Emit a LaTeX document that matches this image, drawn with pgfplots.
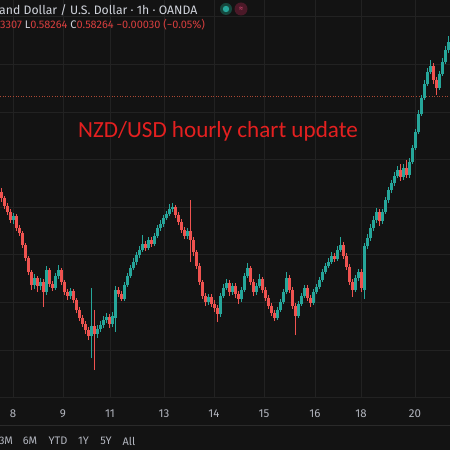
\documentclass[border=0pt]{standalone}
\usepackage{pgfplots}
\pgfplotsset{compat=1.18}
\usepackage{pgfplotstable}
\usepackage{fontspec}
\setmainfont{Fira Sans}
\newfontfamily\titlefont{Carlito}
\definecolor{bgc}{RGB}{19,19,19}
\definecolor{gridc}{RGB}{34,34,34}
\definecolor{upc}{RGB}{38,166,154}
\definecolor{dnc}{RGB}{239,83,80}
\definecolor{txt}{RGB}{209,212,220}
\definecolor{tickc}{RGB}{178,181,190}
\definecolor{hred}{RGB}{214,62,62}
\definecolor{tred}{RGB}{228,32,32}
\definecolor{pline}{RGB}{170,72,52}
\definecolor{sepc}{RGB}{42,42,42}
\definecolor{halo}{RGB}{22,70,60}
\definecolor{rbg}{RGB}{75,25,40}
\definecolor{rfg}{RGB}{205,70,110}

\pgfplotstableread{
x o h l c
1.5 0.57864 0.57880 0.57822 0.57838
4.5 0.57838 0.57847 0.57792 0.57805
7.5 0.57805 0.57817 0.57767 0.57780
10.5 0.57780 0.57792 0.57733 0.57746
16.5 0.57763 0.57771 0.57700 0.57712
19.5 0.57712 0.57725 0.57679 0.57691
22.5 0.57691 0.57700 0.57628 0.57641
25.5 0.57641 0.57649 0.57574 0.57586
28.5 0.57586 0.57595 0.57515 0.57528
31.5 0.57528 0.57536 0.57452 0.57473
37.5 0.57502 0.57511 0.57444 0.57469
43.5 0.57486 0.57498 0.57381 0.57444
49.5 0.57536 0.57544 0.57465 0.57477
52.5 0.57477 0.57490 0.57448 0.57460
61.5 0.57536 0.57544 0.57473 0.57486
64.5 0.57486 0.57494 0.57431 0.57444
67.5 0.57444 0.57456 0.57410 0.57427
73.5 0.57448 0.57456 0.57397 0.57410
76.5 0.57410 0.57418 0.57355 0.57368
79.5 0.57368 0.57381 0.57322 0.57334
82.5 0.57334 0.57347 0.57297 0.57309
85.5 0.57309 0.57322 0.57267 0.57284
88.5 0.57284 0.57297 0.57242 0.57259
94.5 0.57301 0.57368 0.57116 0.57267
109.5 0.57339 0.57351 0.57292 0.57309
118.5 0.57452 0.57465 0.57423 0.57435
121.5 0.57435 0.57448 0.57406 0.57414
145.5 0.57645 0.57658 0.57616 0.57628
151.5 0.57662 0.57675 0.57633 0.57645
175.5 0.57801 0.57809 0.57754 0.57767
178.5 0.57767 0.57780 0.57725 0.57738
181.5 0.57738 0.57750 0.57691 0.57704
184.5 0.57704 0.57717 0.57666 0.57679
190.5 0.57700 0.57830 0.57570 0.57662
193.5 0.57662 0.57675 0.57595 0.57612
196.5 0.57612 0.57620 0.57540 0.57553
199.5 0.57553 0.57565 0.57473 0.57486
202.5 0.57486 0.57494 0.57414 0.57427
205.5 0.57427 0.57439 0.57385 0.57402
211.5 0.57423 0.57435 0.57381 0.57393
214.5 0.57393 0.57410 0.57360 0.57376
217.5 0.57376 0.57389 0.57318 0.57351
229.5 0.57481 0.57494 0.57427 0.57444
235.5 0.57469 0.57481 0.57418 0.57435
238.5 0.57435 0.57448 0.57393 0.57414
250.5 0.57544 0.57553 0.57473 0.57486
253.5 0.57486 0.57498 0.57427 0.57444
262.5 0.57498 0.57507 0.57439 0.57452
265.5 0.57452 0.57465 0.57406 0.57418
268.5 0.57418 0.57431 0.57372 0.57385
271.5 0.57385 0.57397 0.57343 0.57355
274.5 0.57355 0.57368 0.57322 0.57334
289.5 0.57502 0.57515 0.57439 0.57452
292.5 0.57452 0.57465 0.57372 0.57385
295.5 0.57385 0.57397 0.57263 0.57343
307.5 0.57460 0.57473 0.57406 0.57418
310.5 0.57418 0.57431 0.57381 0.57397
334.5 0.57595 0.57607 0.57570 0.57582
343.5 0.57641 0.57654 0.57582 0.57595
346.5 0.57595 0.57607 0.57536 0.57549
349.5 0.57549 0.57561 0.57473 0.57486
352.5 0.57486 0.57498 0.57423 0.57452
361.5 0.57528 0.57540 0.57444 0.57460
379.5 0.57780 0.57792 0.57721 0.57742
400.5 0.57956 0.57981 0.57910 0.57927
406.5 0.57964 0.57998 0.57922 0.57935
433.5 0.58393 0.58405 0.58317 0.58334
436.5 0.58334 0.58347 0.58271 0.58300
}\down

\pgfplotstableread{
x o h l c
13.5 0.57746 0.57775 0.57729 0.57763
34.5 0.57473 0.57519 0.57456 0.57502
40.5 0.57469 0.57502 0.57452 0.57486
46.5 0.57444 0.57553 0.57431 0.57536
55.5 0.57460 0.57523 0.57452 0.57511
58.5 0.57511 0.57557 0.57498 0.57536
70.5 0.57427 0.57460 0.57414 0.57448
91.5 0.57259 0.57460 0.57166 0.57301
97.5 0.57267 0.57305 0.57250 0.57288
100.5 0.57288 0.57322 0.57276 0.57305
103.5 0.57305 0.57343 0.57292 0.57326
106.5 0.57326 0.57355 0.57313 0.57339
112.5 0.57309 0.57360 0.57297 0.57343
115.5 0.57334 0.57469 0.57276 0.57452
124.5 0.57414 0.57486 0.57406 0.57473
127.5 0.57473 0.57523 0.57465 0.57511
130.5 0.57511 0.57557 0.57502 0.57544
133.5 0.57544 0.57586 0.57536 0.57570
136.5 0.57570 0.57612 0.57557 0.57599
139.5 0.57599 0.57637 0.57586 0.57620
142.5 0.57620 0.57683 0.57612 0.57645
148.5 0.57628 0.57675 0.57620 0.57662
154.5 0.57645 0.57691 0.57637 0.57679
157.5 0.57679 0.57725 0.57670 0.57712
160.5 0.57712 0.57746 0.57700 0.57729
163.5 0.57729 0.57767 0.57717 0.57754
166.5 0.57754 0.57784 0.57746 0.57771
169.5 0.57771 0.57813 0.57763 0.57792
172.5 0.57792 0.57817 0.57780 0.57801
187.5 0.57679 0.57712 0.57666 0.57700
208.5 0.57402 0.57435 0.57389 0.57423
220.5 0.57351 0.57439 0.57339 0.57427
223.5 0.57427 0.57477 0.57418 0.57460
226.5 0.57460 0.57498 0.57452 0.57481
232.5 0.57444 0.57481 0.57431 0.57469
241.5 0.57414 0.57465 0.57402 0.57452
244.5 0.57452 0.57523 0.57444 0.57511
247.5 0.57511 0.57565 0.57502 0.57544
256.5 0.57444 0.57481 0.57431 0.57469
259.5 0.57469 0.57519 0.57460 0.57498
277.5 0.57334 0.57381 0.57326 0.57368
280.5 0.57368 0.57414 0.57360 0.57402
283.5 0.57402 0.57456 0.57393 0.57444
286.5 0.57444 0.57528 0.57435 0.57502
298.5 0.57343 0.57406 0.57334 0.57393
301.5 0.57393 0.57439 0.57385 0.57427
304.5 0.57427 0.57473 0.57418 0.57460
313.5 0.57397 0.57456 0.57389 0.57444
316.5 0.57444 0.57477 0.57435 0.57465
319.5 0.57465 0.57507 0.57456 0.57494
322.5 0.57494 0.57540 0.57486 0.57528
325.5 0.57528 0.57565 0.57519 0.57553
328.5 0.57553 0.57586 0.57544 0.57570
331.5 0.57570 0.57612 0.57561 0.57595
337.5 0.57582 0.57637 0.57574 0.57620
340.5 0.57620 0.57675 0.57612 0.57641
355.5 0.57452 0.57515 0.57444 0.57502
358.5 0.57502 0.57540 0.57490 0.57528
364.5 0.57452 0.57649 0.57414 0.57637
367.5 0.57637 0.57687 0.57624 0.57670
370.5 0.57670 0.57729 0.57658 0.57712
373.5 0.57712 0.57763 0.57700 0.57746
376.5 0.57746 0.57796 0.57733 0.57780
382.5 0.57742 0.57792 0.57729 0.57780
385.5 0.57780 0.57843 0.57771 0.57830
388.5 0.57830 0.57885 0.57817 0.57872
391.5 0.57872 0.57914 0.57859 0.57901
394.5 0.57901 0.57948 0.57889 0.57931
397.5 0.57931 0.57973 0.57922 0.57956
403.5 0.57927 0.57981 0.57914 0.57964
409.5 0.57935 0.58006 0.57922 0.57990
412.5 0.57990 0.58061 0.57981 0.58048
415.5 0.58048 0.58128 0.58040 0.58116
418.5 0.58116 0.58208 0.58107 0.58191
421.5 0.58191 0.58271 0.58183 0.58258
424.5 0.58258 0.58334 0.58250 0.58317
427.5 0.58317 0.58384 0.58309 0.58368
430.5 0.58368 0.58418 0.58359 0.58393
439.5 0.58300 0.58372 0.58292 0.58359
442.5 0.58359 0.58426 0.58351 0.58410
445.5 0.58410 0.58477 0.58401 0.58460
448.5 0.58460 0.58519 0.58447 0.58494
}\up

\begin{document}
\begin{tikzpicture}[x=1bp,y=1bp]
\fill[bgc] (0bp,0bp) rectangle (450bp,450bp);
\begin{axis}[at={(0bp,53bp)}, anchor=south west,
  width=450bp, height=397bp, scale only axis,
  xmin=0, xmax=450, ymin=0.57003, ymax=0.58670,
  axis line style={draw=none}, major tick length=0pt,
  xtick={13,63,110,164,214,264,315,361,415},
  xticklabels={8,9,11,13,14,15,16,18,20},
  ytick={0.5720,0.5740,0.5760,0.5780,0.5800,0.5820,0.5840,0.5860},
  yticklabels={},
  grid=major, major grid style={draw=gridc, line width=0.8bp},
  xticklabel style={anchor=center, yshift=-17bp, text=tickc, font=\fontsize{11.5}{13}\selectfont},
  clip=true]
\addplot[pline, line width=0.8bp, dash pattern=on 1bp off 1.6bp] coordinates {(0,0.58264) (450,0.58264)};
\addplot[draw=dnc, line width=0.8bp, quiver={u=0, v=\thisrow{h}-\thisrow{l}}] table[x=x, y=l] {\down};
\addplot[draw=dnc, line width=2.3bp, quiver={u=0, v=\thisrow{c}-\thisrow{o}}] table[x=x, y=o] {\down};
\addplot[draw=upc, line width=0.8bp, quiver={u=0, v=\thisrow{h}-\thisrow{l}}] table[x=x, y=l] {\up};
\addplot[draw=upc, line width=2.3bp, quiver={u=0, v=\thisrow{c}-\thisrow{o}}] table[x=x, y=o] {\up};
\end{axis}
% header
\node[anchor=west, inner sep=0, text=txt, font=\fontsize{12.3}{14}\selectfont] at (-1bp,440bp) {and Dollar / U.S. Dollar · 1h · OANDA};
\node[anchor=west, inner sep=0, font=\fontsize{11}{12}\selectfont] at (0bp,425bp)
  {\color{hred}3307 \color{txt}L\color{hred}0.58264 \color{txt}C\color{hred}0.58264 −0.00030 (−0.05\%)};
\fill[halo] (226bp,441bp) circle (6bp);
\fill[upc] (226bp,441bp) circle (3.2bp);
\fill[rbg] (241bp,441bp) circle (6.5bp);
\node[text=rfg, inner sep=0, font=\fontsize{9}{9}\selectfont] at (241bp,441bp) {≈};
% title
\node[text=tred, font=\titlefont\fontsize{23.2}{27}\selectfont] at (218bp,319bp) {NZD/USD hourly chart update};
% lines
\draw[gridc, line width=0.8bp] (0bp,53bp) -- (450bp,53bp);
\draw[sepc, line width=1bp] (0bp,24bp) -- (450bp,24bp);
% toolbar
\begin{scope}[every node/.style={text=tickc, font=\fontsize{11}{13}\selectfont, inner sep=0}]
\node at (6bp,9bp) {3M};
\node at (30bp,9bp) {6M};
\node at (58bp,9bp) {YTD};
\node at (83.5bp,9bp) {1Y};
\node at (106bp,9bp) {5Y};
\node at (129bp,9bp) {All};
\end{scope}
\pgfresetboundingbox
\useasboundingbox (0bp,0bp) rectangle (450bp,450bp);
\end{tikzpicture}
\end{document}
